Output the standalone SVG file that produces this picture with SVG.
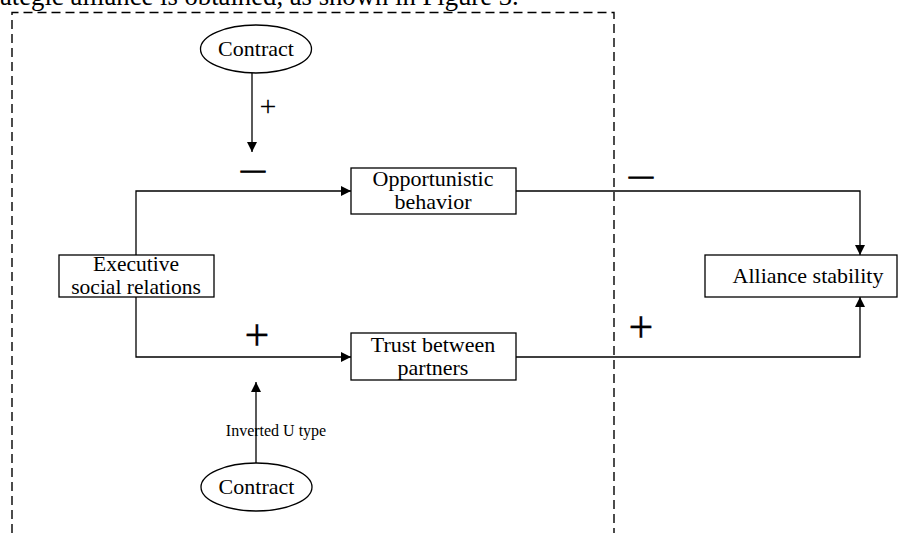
<svg xmlns="http://www.w3.org/2000/svg" width="898" height="533" viewBox="0 0 898 533">
<defs>
<style>
.t{font-family:"Liberation Serif","Times New Roman",serif;fill:#000;text-anchor:middle}
.box{fill:#fff;stroke:#000;stroke-width:1.3}
.ln{fill:none;stroke:#000;stroke-width:1.3}
.dash{fill:none;stroke:#000;stroke-width:1.4;stroke-dasharray:9 5}
.sign{font-family:"Liberation Serif","Times New Roman",serif;fill:#000;text-anchor:middle;stroke:#000}
</style>
<marker id="ah" viewBox="0 0 10 10" refX="10" refY="5" markerWidth="10" markerHeight="11" markerUnits="userSpaceOnUse" orient="auto">
<path d="M0,0 L10,5 L0,10 Z" fill="#000"/>
</marker>
</defs>
<rect width="898" height="533" fill="#fff"/>
<text x="0" y="5" font-family="Liberation Serif, Times New Roman, serif" font-size="26.7" fill="#000">ategic alliance is obtained, as shown in Figure 3.</text>
<g id="frame">
<path class="dash" d="M12,533 V12.5 H614 V533"/>
</g>
<g id="connectors">
<path class="ln" d="M252,73 V152" marker-end="url(#ah)"/>
<path class="ln" d="M136,255 V191 H351" marker-end="url(#ah)"/>
<path class="ln" d="M136,297 V357 H351" marker-end="url(#ah)"/>
<path class="ln" d="M516,191 H860 V255" marker-end="url(#ah)"/>
<path class="ln" d="M516,357 H860 V297" marker-end="url(#ah)"/>
<path class="ln" d="M256,463 V382" marker-end="url(#ah)"/>
<text class="t" x="268" y="115.5" font-size="30">+</text>
<text class="sign" x="253" y="176.5" font-size="24" stroke-width="1.1">—</text>
<text class="sign" x="641" y="182.5" font-size="24" stroke-width="1.1">—</text>
<text class="sign" x="257" y="350" font-size="44" stroke-width="0.3">+</text>
<text class="sign" x="641" y="342" font-size="44" stroke-width="0.3">+</text>
<text class="t" x="276" y="436" font-size="16">Inverted U type</text>
</g>
<g id="contract-top">
<ellipse class="box" cx="256" cy="49" rx="55.5" ry="24"/>
<text class="t" x="256" y="56" font-size="22">Contract</text>
</g>
<g id="opportunistic">
<rect class="box" x="351" y="168" width="165" height="46"/>
<text class="t" x="433" y="186" font-size="22">Opportunistic</text>
<text class="t" x="433" y="209" font-size="22">behavior</text>
</g>
<g id="executive">
<rect class="box" x="59" y="255" width="155" height="42"/>
<text class="t" x="136" y="271" font-size="21.5">Executive</text>
<text class="t" x="136" y="294" font-size="21.5">social relations</text>
</g>
<g id="alliance">
<rect class="box" x="705" y="255" width="192" height="42"/>
<text class="t" x="808" y="283" font-size="22">Alliance stability</text>
</g>
<g id="trust">
<rect class="box" x="351" y="333" width="165" height="47"/>
<text class="t" x="433" y="352" font-size="22">Trust between</text>
<text class="t" x="433" y="375" font-size="22">partners</text>
</g>
<g id="contract-bottom">
<ellipse class="box" cx="256.5" cy="487" rx="55.5" ry="24"/>
<text class="t" x="256.5" y="494" font-size="22">Contract</text>
</g>
</svg>
